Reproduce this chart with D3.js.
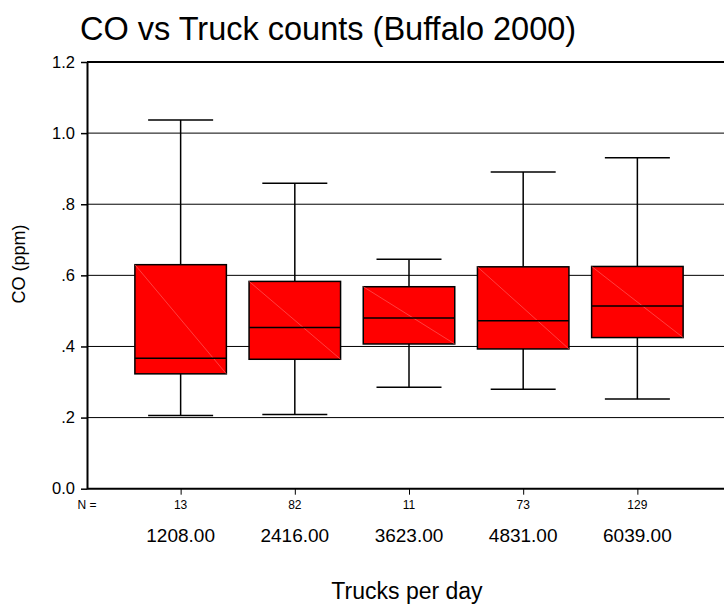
<!DOCTYPE html>
<html>
<head>
<meta charset="utf-8">
<script src="https://cdn.jsdelivr.net/npm/d3@7"></script>
<style>
  html, body { margin: 0; padding: 0; background: #fff; }
  svg { display: block; font-family: Arial, "Liberation Sans", sans-serif; }
</style>
</head>
<body>
<svg id="chart" width="724" height="609"></svg>
<script>
// Truck-count groups and CO box-plot statistics (ppm)
const categories = ["1208.00", "2416.00", "3623.00", "4831.00", "6039.00"];
const counts     = [13, 82, 11, 73, 129];
const whiskerLow = [0.206, 0.209, 0.285, 0.280, 0.252];
const q1         = [0.323, 0.364, 0.407, 0.393, 0.425];
const median     = [0.367, 0.453, 0.480, 0.472, 0.514];
const q3         = [0.630, 0.583, 0.568, 0.624, 0.625];
const whiskerHigh= [1.037, 0.859, 0.645, 0.891, 0.931];
const yTicks     = [0, 0.2, 0.4, 0.6, 0.8, 1.0, 1.2];

const rows = categories.map((c, i) => ({
  cat: c, n: counts[i], lo: whiskerLow[i], q1: q1[i], med: median[i], q3: q3[i], hi: whiskerHigh[i]
}));

const svg = d3.select("#chart");
const plotLeft = 87, plotRight = 731, plotTop = 62, plotBottom = 488.7;

const x = d3.scalePoint().domain(categories).range([plotLeft, plotRight]).padding(0.82);
const y = d3.scaleLinear().domain([0, 1.2]).range([plotBottom, plotTop]);

const boxW = 91.5, capW = 65;

// horizontal grid lines
svg.append("g").selectAll("line").data(yTicks.filter(t => t > 0 && t < 1.2)).join("line")
  .attr("x1", plotLeft).attr("x2", 724)
  .attr("y1", d => y(d)).attr("y2", d => y(d))
  .attr("stroke", "#000").attr("stroke-width", 1);

// y axis with left ticks
const fmt = d => d === 0 ? "0.0" : (d >= 1 ? d.toFixed(1) : d.toFixed(1).replace(/^0/, ""));
const yAxis = svg.append("g").attr("transform", `translate(${plotLeft},0)`)
  .call(d3.axisLeft(y).tickValues(yTicks).tickFormat(fmt).tickSize(6).tickSizeOuter(0));
yAxis.select(".domain").attr("stroke", "#000").attr("stroke-width", 2);
yAxis.selectAll(".tick line").attr("stroke", "#000").attr("stroke-width", 1.5);
yAxis.selectAll(".tick text").attr("font-size", 16.5).attr("fill", "#000")
  .attr("font-family", "Arial, 'Liberation Sans', sans-serif").attr("x", -12);

// top frame line
svg.append("line").attr("x1", plotLeft).attr("x2", 724).attr("y1", plotTop).attr("y2", plotTop)
  .attr("stroke", "#000").attr("stroke-width", 2);

// x axis with category ticks
const xAxis = svg.append("g").attr("transform", `translate(0,${plotBottom})`)
  .call(d3.axisBottom(x).tickSize(6).tickSizeOuter(0).tickFormat(""));
xAxis.select(".domain").attr("stroke", "#000").attr("stroke-width", 2)
  .attr("d", `M${plotLeft},0H724`);
xAxis.selectAll(".tick line").attr("stroke", "#000").attr("stroke-width", 1);

// boxes
const g = svg.append("g").selectAll("g").data(rows).join("g")
  .attr("transform", d => `translate(${x(d.cat)},0)`);

g.append("line").attr("x1", 0).attr("x2", 0)
  .attr("y1", d => y(d.hi)).attr("y2", d => y(d.q3))
  .attr("stroke", "#000").attr("stroke-width", 1.5);
g.append("line").attr("x1", 0).attr("x2", 0)
  .attr("y1", d => y(d.q1)).attr("y2", d => y(d.lo))
  .attr("stroke", "#000").attr("stroke-width", 1.5);
g.append("line").attr("x1", -capW / 2).attr("x2", capW / 2)
  .attr("y1", d => y(d.hi)).attr("y2", d => y(d.hi))
  .attr("stroke", "#000").attr("stroke-width", 1.5);
g.append("line").attr("x1", -capW / 2).attr("x2", capW / 2)
  .attr("y1", d => y(d.lo)).attr("y2", d => y(d.lo))
  .attr("stroke", "#000").attr("stroke-width", 1.5);
g.append("rect").attr("x", -boxW / 2).attr("width", boxW)
  .attr("y", d => y(d.q3)).attr("height", d => y(d.q1) - y(d.q3))
  .attr("fill", "#ff0000").attr("stroke", "#000").attr("stroke-width", 1.5);
g.append("line").attr("x1", -boxW / 2).attr("x2", boxW / 2)
  .attr("y1", d => y(d.q3)).attr("y2", d => y(d.q1))
  .attr("stroke", "#ff6a6a").attr("stroke-width", 0.6);
g.append("line").attr("x1", -boxW / 2).attr("x2", boxW / 2)
  .attr("y1", d => y(d.med)).attr("y2", d => y(d.med))
  .attr("stroke", "#000").attr("stroke-width", 1.5);

// N counts
svg.append("text").attr("x", 87).attr("y", 509).attr("text-anchor", "middle")
  .attr("font-size", 12).text("N =");
svg.append("g").selectAll("text").data(rows).join("text")
  .attr("x", d => x(d.cat)).attr("y", 509).attr("text-anchor", "middle")
  .attr("font-size", 12).text(d => d.n);

// category labels
svg.append("g").selectAll("text").data(rows).join("text")
  .attr("x", d => x(d.cat)).attr("y", 542).attr("text-anchor", "middle")
  .attr("font-size", 19).text(d => d.cat);

// titles
svg.append("text").attr("x", 407).attr("y", 599).attr("text-anchor", "middle")
  .attr("font-size", 23).text("Trucks per day");
svg.append("text").attr("transform", "translate(25,264) rotate(-90)")
  .attr("text-anchor", "middle").attr("font-size", 18).text("CO (ppm)");
svg.append("text").attr("x", 80).attr("y", 40)
  .attr("font-size", 32.5).text("CO vs Truck counts (Buffalo 2000)");
</script>
</body>
</html>
